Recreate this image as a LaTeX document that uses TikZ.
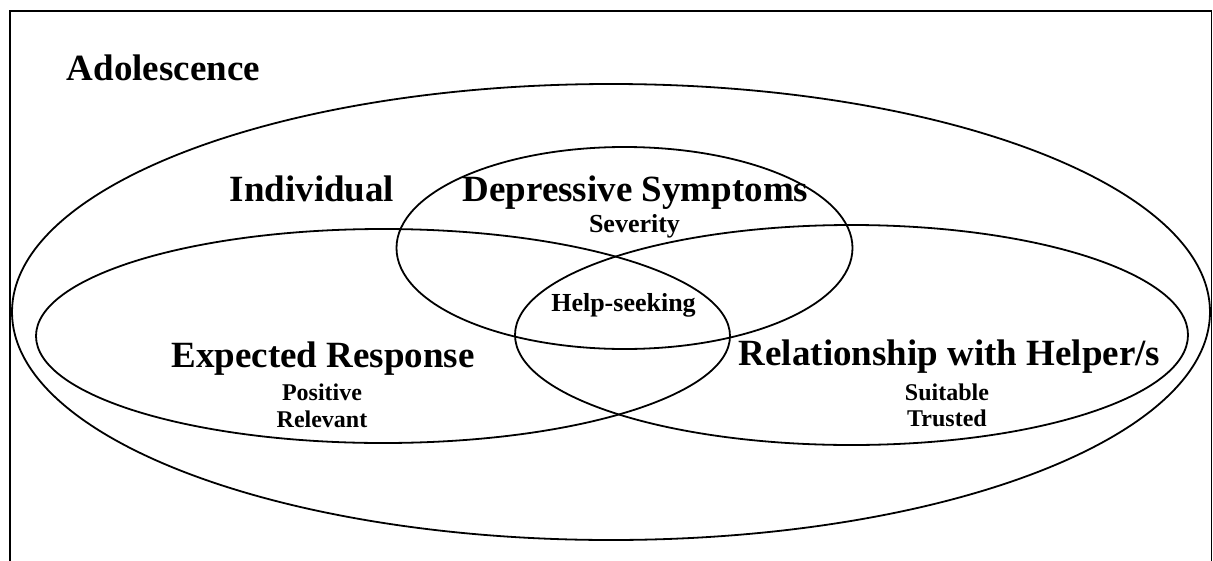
\documentclass[tikz,border=0pt]{standalone}
\usepackage{fontspec}
\setmainfont{Liberation Serif}
\usepackage{tikz}

\tikzset{
  ring/.style={line width=1.8pt},
  headlabel/.style={font=\fontsize{37}{40}\selectfont\bfseries, anchor=base, inner sep=0pt},
  midlabel/.style={font=\fontsize{26}{28}\selectfont\bfseries, anchor=base, inner sep=0pt},
  sublabel/.style={font=\fontsize{24}{27}\selectfont\bfseries, anchor=base, inner sep=0pt}
}

\begin{document}
\begin{tikzpicture}[x=1pt,y=-1pt]
                \clip (0,0) rectangle (1213,560);
                \useasboundingbox (0,0) rectangle (1213,560);

                % Frame
                \draw[line width=1.8pt] (10,11) rectangle (1211.5,600);
                \node[headlabel] (adol) at (163.5,80) {Adolescence};

                % Individual
                \draw[ring] (611,312) ellipse [x radius=599, y radius=228];
                \node[headlabel] (indiv) at (312,201) {Individual};

                % Depressive symptoms
                \draw[ring] (624.5,248) ellipse [x radius=228, y radius=101];
                \node[headlabel] (depr) at (635.5,201) {Depressive Symptoms};
                \node[midlabel] (sev) at (634.5,232) {Severity};

                % Expected response
                \draw[ring] (383,336) ellipse [x radius=347, y radius=107];
                \node[headlabel] (expect) at (323,367) {Expected Response};
                \node[sublabel] (pos) at (322,400) {Positive};
                \node[sublabel] (relev) at (322,427) {Relevant};

                % Relationship with helper
                \draw[ring] (851.5,335) ellipse [x radius=336.5, y radius=110];
                \node[headlabel] (relat) at (949.5,365) {Relationship with Helper/s};
                \node[sublabel] (suit) at (947,400) {Suitable};
                \node[sublabel] (trust) at (947,426) {Trusted};

                % Overlap
                \node[midlabel] (help) at (623.5,311) {Help-seeking};
            \end{tikzpicture}
\end{document}
